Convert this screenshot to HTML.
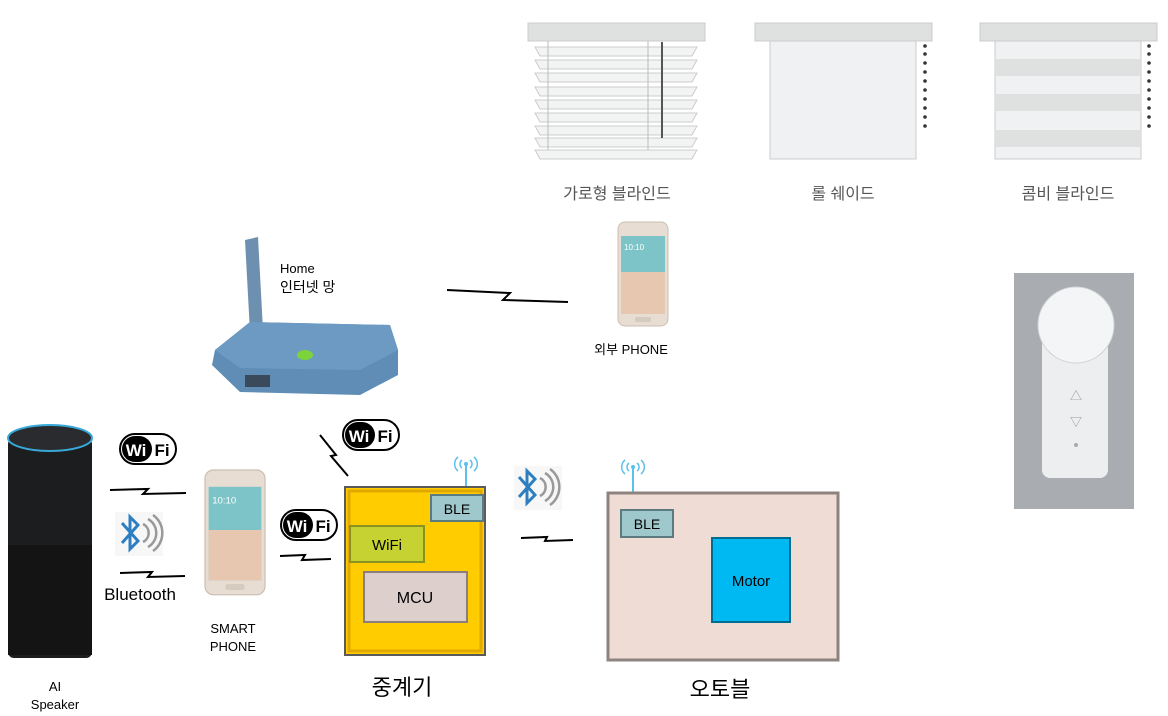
<!DOCTYPE html>
<html><head><meta charset="utf-8"><style>
body{margin:0;background:#fff;width:1168px;height:716px;overflow:hidden}
svg{display:block}
text{font-family:"Liberation Sans","Noto Sans CJK KR",sans-serif}
</style></head><body>
<svg width="1168" height="716" viewBox="0 0 1168 716" xmlns="http://www.w3.org/2000/svg">
<defs>
<g id="wifi"><rect x="0" y="0" width="56" height="30" rx="15" fill="#fff" stroke="#000" stroke-width="2"/><rect x="2" y="2" width="30" height="26" rx="13" fill="#000"/><text x="16" y="22" font-size="17" font-weight="bold" fill="#fff" text-anchor="middle">Wi</text><text x="42" y="22" font-size="17" font-weight="bold" fill="#000" text-anchor="middle">Fi</text></g>
<g id="ant"><line x1="0" y1="0" x2="0" y2="26" stroke="#5bc0eb" stroke-width="2"/><path d="M-4,-4 a5,5 0 0,0 0,8 M4,-4 a5,5 0 0,1 0,8 M-8,-7 a9,9 0 0,0 0,14 M8,-7 a9,9 0 0,1 0,14" fill="none" stroke="#5bc0eb" stroke-width="1.5"/><circle cx="0" cy="0" r="2" fill="#5bc0eb"/></g>
<g id="phone"><rect x="0" y="0" width="50" height="104" rx="7" fill="#e8ddd2" stroke="#cbbfb2"/><rect x="3" y="14" width="44" height="78" fill="#7cc4c8"/><rect x="3" y="50" width="44" height="42" fill="#e7c7b0"/><text x="6" y="28" font-size="8" fill="#fff">10:10</text><rect x="17" y="95" width="16" height="5" rx="2" fill="#d6cbbf"/></g>
</defs>

<!-- Blinds -->
<rect x="528" y="23" width="177" height="18" fill="#dfe1e1" stroke="#ccc"/>
<g fill="#f2f3f3" stroke="#ccc">
<polygon points="535,47 697,47 692,56 540,56"/><polygon points="535,60 697,60 692,69 540,69"/><polygon points="535,73 697,73 692,82 540,82"/><polygon points="535,87 697,87 692,96 540,96"/><polygon points="535,100 697,100 692,109 540,109"/><polygon points="535,113 697,113 692,122 540,122"/><polygon points="535,126 697,126 692,135 540,135"/><polygon points="535,138 697,138 692,147 540,147"/><polygon points="535,150 697,150 692,159 540,159"/>
</g>
<line x1="548" y1="41" x2="548" y2="150" stroke="#bbb"/><line x1="648" y1="41" x2="648" y2="150" stroke="#bbb"/>
<line x1="662" y1="42" x2="662" y2="138" stroke="#555" stroke-width="2"/>
<rect x="755" y="23" width="177" height="18" fill="#dfe1e1" stroke="#ccc"/>
<rect x="770" y="41" width="146" height="118" fill="#f0f1f2" stroke="#ccc"/>
<g fill="#333"><circle cx="925" cy="46" r="1.8"/><circle cx="925" cy="54" r="1.8"/><circle cx="925" cy="63" r="1.8"/><circle cx="925" cy="72" r="1.8"/><circle cx="925" cy="81" r="1.8"/><circle cx="925" cy="90" r="1.8"/><circle cx="925" cy="99" r="1.8"/><circle cx="925" cy="108" r="1.8"/><circle cx="925" cy="117" r="1.8"/><circle cx="925" cy="126" r="1.8"/></g>
<rect x="980" y="23" width="177" height="18" fill="#dfe1e1" stroke="#ccc"/>
<rect x="995" y="41" width="146" height="118" fill="#f0f1f2" stroke="#ccc"/>
<g fill="#dfe1e1"><rect x="996" y="59" width="144" height="17"/><rect x="996" y="94" width="144" height="17"/><rect x="996" y="130" width="144" height="17"/></g>
<g fill="#333"><circle cx="1149" cy="46" r="1.8"/><circle cx="1149" cy="54" r="1.8"/><circle cx="1149" cy="63" r="1.8"/><circle cx="1149" cy="72" r="1.8"/><circle cx="1149" cy="81" r="1.8"/><circle cx="1149" cy="90" r="1.8"/><circle cx="1149" cy="99" r="1.8"/><circle cx="1149" cy="108" r="1.8"/><circle cx="1149" cy="117" r="1.8"/><circle cx="1149" cy="126" r="1.8"/></g>
<g font-size="16" fill="#555" text-anchor="middle"><text x="617" y="199">가로형 블라인드</text><text x="843" y="199">롤 쉐이드</text><text x="1068" y="199">콤비 블라인드</text></g>

<!-- remote -->
<rect x="1014" y="273" width="120" height="236" fill="#a9adb1"/>
<rect x="1042" y="330" width="66" height="148" rx="8" fill="#eceef0"/>
<circle cx="1076" cy="325" r="38" fill="#f4f5f6" stroke="#d0d2d4"/>
<text x="1076" y="400" font-size="12" fill="#999" text-anchor="middle">△</text><text x="1076" y="426" font-size="12" fill="#999" text-anchor="middle">▽</text>
<circle cx="1076" cy="445" r="2" fill="#aaa"/>

<!-- router -->
<polygon points="245,240 258,237 263,330 250,332" fill="#6d8fb0"/>
<polygon points="215,350 250,322 390,325 398,350 398,375 360,395 240,392 212,365" fill="#5f8db5"/>
<polygon points="215,350 250,322 390,325 398,350 360,370 240,368" fill="#6c9ac3"/>
<rect x="245" y="375" width="25" height="12" fill="#3a4a5a"/>
<ellipse cx="305" cy="355" rx="8" ry="5" fill="#7dd33a"/>
<text x="280" y="273" font-size="13" fill="#000">Home</text>
<text x="280" y="292" font-size="14" fill="#000">인터넷 망</text>

<!-- external phone -->
<use href="#phone" x="618" y="222"/>
<text x="631" y="354" font-size="13" text-anchor="middle">외부 PHONE</text>
<polyline points="447,290 510,293 503,300 568,302" fill="none" stroke="#000" stroke-width="2"/>

<!-- speaker -->
<rect x="8" y="438" width="84" height="220" rx="6" fill="#1c1d1f"/>
<ellipse cx="50" cy="438" rx="42" ry="13" fill="#2a2b2e" stroke="#38a8d8" stroke-width="2"/>
<rect x="8" y="545" width="84" height="110" fill="#141414"/>
<text x="55" y="691" font-size="13" text-anchor="middle">AI</text>
<text x="55" y="709" font-size="13" text-anchor="middle">Speaker</text>

<use href="#wifi" x="120" y="434"/>
<use href="#wifi" x="343" y="420"/>
<use href="#wifi" x="281" y="510"/>

<!-- bluetooth -->
<rect x="115" y="512" width="48" height="44" fill="#f7f7f7"/>
<path d="M122,523 L138,541 L130,549 L130,517 L138,525 L122,543" fill="none" stroke="#2d7fc1" stroke-width="3"/>
<path d="M143,524 a10,10 0 0,1 0,18 M148,519 a16,16 0 0,1 0,28 M153,515 a22,22 0 0,1 0,36" fill="none" stroke="#999" stroke-width="2.5"/>
<text x="140" y="600" font-size="17" text-anchor="middle">Bluetooth</text>
<rect x="514" y="466" width="48" height="44" fill="#f7f7f7"/>
<path d="M519,477 L535,495 L527,503 L527,471 L535,479 L519,497" fill="none" stroke="#2d7fc1" stroke-width="3"/>
<path d="M540,478 a10,10 0 0,1 0,18 M545,473 a16,16 0 0,1 0,28 M550,469 a22,22 0 0,1 0,36" fill="none" stroke="#999" stroke-width="2.5"/>

<!-- lightning -->
<g fill="none" stroke="#000" stroke-width="2">
<polyline points="110,490 148,489 143,494 186,493"/>
<polyline points="120,573 152,572 148,577 185,576"/>
<polyline points="280,556 305,555 302,560 331,559"/>
<polyline points="320,435 336,455 331,456 348,476"/>
<polyline points="521,538 547,537 545,541 573,540"/>
</g>

<!-- smart phone -->
<g transform="translate(205,470) scale(1.2)"><use href="#phone"/></g>
<text x="233" y="633" font-size="13" text-anchor="middle">SMART</text>
<text x="233" y="651" font-size="13" text-anchor="middle">PHONE</text>

<!-- relay -->
<use href="#ant" x="466" y="464"/>
<rect x="345" y="487" width="140" height="168" fill="#ffcc00" stroke="#5a5a5a" stroke-width="2"/>
<rect x="349" y="491" width="132" height="160" fill="none" stroke="#e0a800" stroke-width="3"/>
<rect x="431" y="495" width="52" height="26" fill="#9fc8cc" stroke="#5c7b80" stroke-width="2"/>
<text x="457" y="514" font-size="14" text-anchor="middle">BLE</text>
<rect x="350" y="526" width="74" height="36" fill="#c6d232" stroke="#8b9320" stroke-width="2"/>
<text x="387" y="550" font-size="15" text-anchor="middle">WiFi</text>
<rect x="364" y="572" width="103" height="50" fill="#ddd0cc" stroke="#8a7f7c" stroke-width="2"/>
<text x="415" y="603" font-size="16" text-anchor="middle">MCU</text>
<text x="402" y="695" font-size="22" text-anchor="middle">중계기</text>

<!-- autoblind -->
<use href="#ant" x="633" y="467"/>
<rect x="608" y="493" width="230" height="167" fill="#efdcd5" stroke="#8f8380" stroke-width="3"/>
<rect x="621" y="510" width="52" height="27" fill="#9fc8cc" stroke="#5c7b80" stroke-width="2"/>
<text x="647" y="529" font-size="14" text-anchor="middle">BLE</text>
<rect x="712" y="538" width="78" height="84" fill="#00b9f2" stroke="#006c91" stroke-width="2"/>
<text x="751" y="586" font-size="15" text-anchor="middle">Motor</text>
<text x="720" y="697" font-size="22" text-anchor="middle">오토블</text>
</svg>
</body></html>
